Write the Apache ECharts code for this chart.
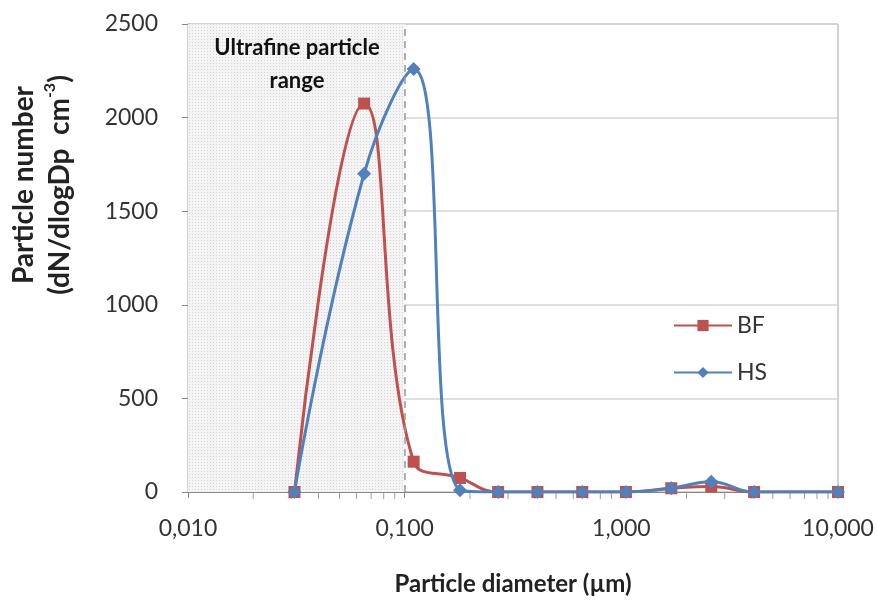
<!DOCTYPE html>
<html><head><meta charset="utf-8">
<script src="https://cdn.jsdelivr.net/npm/echarts@6/dist/echarts.min.js"></script>
<style>html,body{margin:0;padding:0;background:#fff}#c{width:877px;height:601px}</style>
</head><body><div id="c"></div>
<script>
const diameters = [0.031, 0.065, 0.11, 0.18, 0.27, 0.41, 0.66, 1.05, 1.7, 2.6, 4.1, 10];
const bfValues = [0, 2075, 162, 75, 0, 0, 0, 0, 20, 30, 0, 0];
const hsValues = [0, 1700, 2260, 10, 0, 0, 0, 0, 20, 55, 0, 0];
const minorTicks = [0.02,0.03,0.04,0.05,0.06,0.07,0.08,0.09,0.2,0.3,0.4,0.5,0.6,0.7,0.8,0.9,2,3,4,5,6,7,8,9];
const ultrafineRange = [0.01, 0.1];
const annotationText = 'Ultrafine particle\nrange';
const xTitle = 'Particle diameter (µm)';

// dotted pattern for shaded region
const pc = document.createElement('canvas');
pc.width = 3; pc.height = 3;
const pctx = pc.getContext('2d');
pctx.fillStyle = '#f4f4f4'; pctx.fillRect(0,0,3,3);
pctx.fillStyle = '#d4d4d4'; pctx.fillRect(0,0,1,1);

const font = 'Lato, "Open Sans", sans-serif';
const txt = '#333';
const chart = echarts.init(document.getElementById('c'));
chart.setOption({
  animation: false,
  grid: { left: 188, right: 39, top: 24, bottom: 109, show: true, borderColor: '#a6a6a6', borderWidth: 1, backgroundColor: 'transparent' },
  legend: {
    data: ['BF', 'HS'], orient: 'vertical', left: 668, top: 309,
    itemWidth: 58, itemHeight: 14, itemGap: 24,
    textStyle: { fontFamily: font, fontSize: 23, color: txt }
  },
  xAxis: {
    type: 'log', logBase: 10, min: 0.01, max: 10,
    axisLine: { lineStyle: { color: '#868686' } },
    axisTick: { show: true, length: 6, lineStyle: { color: '#868686' } },
    splitLine: { show: false },
    axisLabel: { fontFamily: font, fontSize: 23, color: txt, margin: 25,
      formatter: v => v.toFixed(3).replace('.', ',') },
    name: xTitle, nameLocation: 'middle', nameGap: 80,
    nameTextStyle: { fontFamily: font, fontSize: 24, fontWeight: 'bold', color: '#222' }
  },
  yAxis: {
    type: 'value', min: 0, max: 2500, interval: 500,
    axisLine: { show: true, lineStyle: { color: '#868686' } },
    axisTick: { show: true, length: 6, lineStyle: { color: '#868686' } },
    splitLine: { lineStyle: { color: '#d4d4d4', width: 1.5 } },
    axisLabel: { fontFamily: font, fontSize: 23, color: txt, margin: 30, formatter: v => String(v) }
  },
  graphic: [
    { type: 'text', x: 297, y: 31, z: 100,
      style: { text: annotationText, font: 'bold 22px ' + font, fill: '#111', align: 'center', lineHeight: 33 } },
    { type: 'text', x: 42, y: 185, rotation: Math.PI / 2, z: 100,
      style: {
        text: '{a|Particle number}\n{a|(dN/dlogDp  cm}{s|-3}{a|)}',
        align: 'center', verticalAlign: 'middle',
        rich: {
          a: { font: 'bold 28px ' + font, fill: '#222', lineHeight: 36 },
          s: { font: 'bold 16px ' + font, fill: '#222', lineHeight: 36, verticalAlign: 'top' }
        }
      } }
  ],
  series: [
    {
      name: 'ticks', type: 'scatter', silent: true, z: 1,
      data: minorTicks.map(d => [d, 0]),
      symbol: 'rect', symbolSize: [1, 6], symbolOffset: [0, 4],
      itemStyle: { color: '#868686' }
    },
    {
      name: 'BF', type: 'line', smooth: 0.45, z: 3,
      data: diameters.map((d, i) => [d, bfValues[i]]),
      symbol: 'rect', symbolSize: 12,
      lineStyle: { color: '#c0504d', width: 3 },
      itemStyle: { color: '#c0504d' },
      markArea: {
        silent: true,
        itemStyle: { color: { image: pc, repeat: 'repeat' } },
        data: [[{ xAxis: ultrafineRange[0] }, { xAxis: ultrafineRange[1] }]]
      },
      markLine: {
        silent: true, symbol: 'none', label: { show: false },
        lineStyle: { color: '#999', type: [7, 5], width: 1.5 },
        data: [{ xAxis: ultrafineRange[1] }]
      }
    },
    {
      name: 'HS', type: 'line', smooth: 0.45, z: 4,
      data: diameters.map((d, i) => [d, hsValues[i]]),
      symbol: 'diamond', symbolSize: 14,
      lineStyle: { color: '#4f81bd', width: 3 },
      itemStyle: { color: '#4f81bd' }
    }
  ]
});
</script></body></html>
